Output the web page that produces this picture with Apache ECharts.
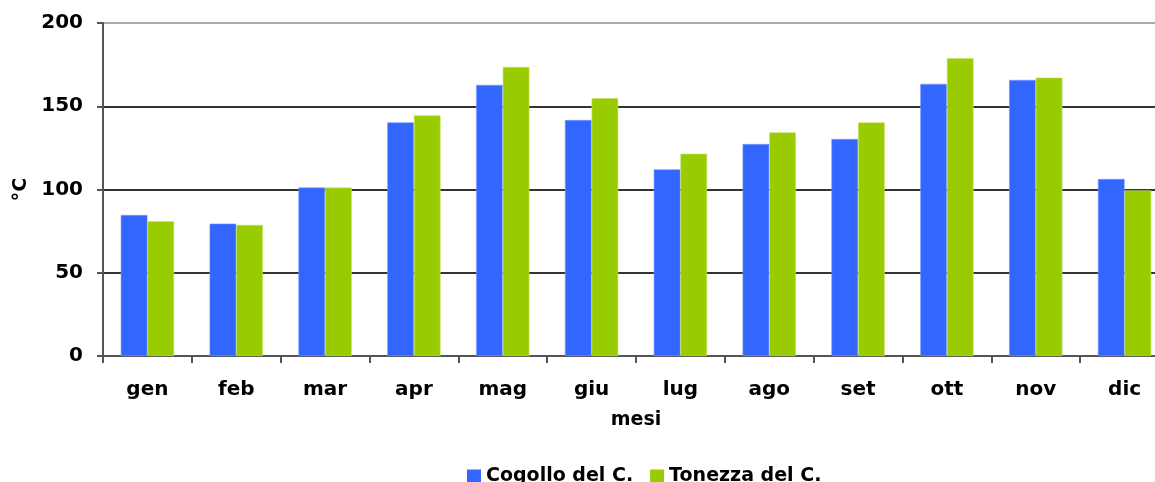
<!DOCTYPE html>
<html>
<head>
<meta charset="utf-8">
<script src="https://cdn.jsdelivr.net/npm/echarts@6/dist/echarts.min.js"></script>
<style>
html,body{margin:0;padding:0;background:#fff;}
#chart{width:1155px;height:482px;}
</style>
</head>
<body>
<div id="chart"></div>
<script>
const categories = ['gen','feb','mar','apr','mag','giu','lug','ago','set','ott','nov','dic'];
const cogollo = [84.7, 79.5, 101.2, 140.3, 162.8, 141.7, 112.1, 127.3, 130.3, 163.4, 165.8, 106.3];
const tonezza = [80.9, 78.7, 101.2, 144.5, 173.6, 154.8, 121.5, 134.3, 140.3, 178.8, 167.2, 99.5];
const seriesNames = ['Cogollo del C.', 'Tonezza del C.'];
const yTicks = [0, 50, 100, 150, 200];

const font = 'DejaVu Sans';
const chart = echarts.init(document.getElementById('chart'));
chart.setOption({
  animation: false,
  backgroundColor: '#fff',
  textStyle: { fontFamily: font },
  grid: { left: 103, right: -14, top: 23, bottom: 126, containLabel: false, outerBoundsMode: 'none' },
  legend: {
    left: 462, top: 462,
    itemWidth: 14, itemHeight: 14, itemGap: 17,
    icon: 'rect',
    itemStyle: { borderWidth: 0 },
    textStyle: { fontFamily: font, fontWeight: 'bold', fontSize: 19, color: '#000' },
    data: seriesNames
  },
  xAxis: {
    type: 'category',
    data: categories,
    name: 'mesi',
    nameLocation: 'middle',
    nameGap: 55,
    nameTextStyle: { fontFamily: font, fontWeight: 'bold', fontSize: 19, color: '#000' },
    axisLine: { lineStyle: { color: '#555', width: 2 } },
    axisTick: { show: true, length: 7, lineStyle: { color: '#555', width: 2 } },
    axisLabel: { fontFamily: font, fontWeight: 'bold', fontSize: 20, color: '#000', margin: 24 }
  },
  yAxis: {
    type: 'value',
    min: yTicks[0], max: yTicks[yTicks.length-1], interval: 50,
    name: '°C',
    nameLocation: 'middle',
    nameRotate: 90,
    nameGap: 72,
    nameTextStyle: { fontFamily: font, fontWeight: 'bold', fontSize: 19, color: '#000' },
    axisLine: { show: true, lineStyle: { color: '#555', width: 2 } },
    axisTick: { show: true, length: 6, lineStyle: { color: '#555', width: 2 } },
    axisLabel: { fontFamily: font, fontWeight: 'bold', fontSize: 20, color: '#000', margin: 20 },
    splitLine: { show: true, lineStyle: { color: ['#555','#333','#333','#333','#aaa'], width: 2 } }
  },
  series: [
    {
      name: seriesNames[0], type: 'bar', data: cogollo,
      barGap: '0%', barCategoryGap: '40%',
      itemStyle: { color: '#3366FF', borderColor: '#7799ff', borderWidth: 0.6 }
    },
    {
      name: seriesNames[1], type: 'bar', data: tonezza,
      barGap: '0%', barCategoryGap: '40%',
      itemStyle: { color: '#99CC00', borderColor: '#c4e066', borderWidth: 0.6 }
    }
  ]
});
</script>
</body>
</html>
